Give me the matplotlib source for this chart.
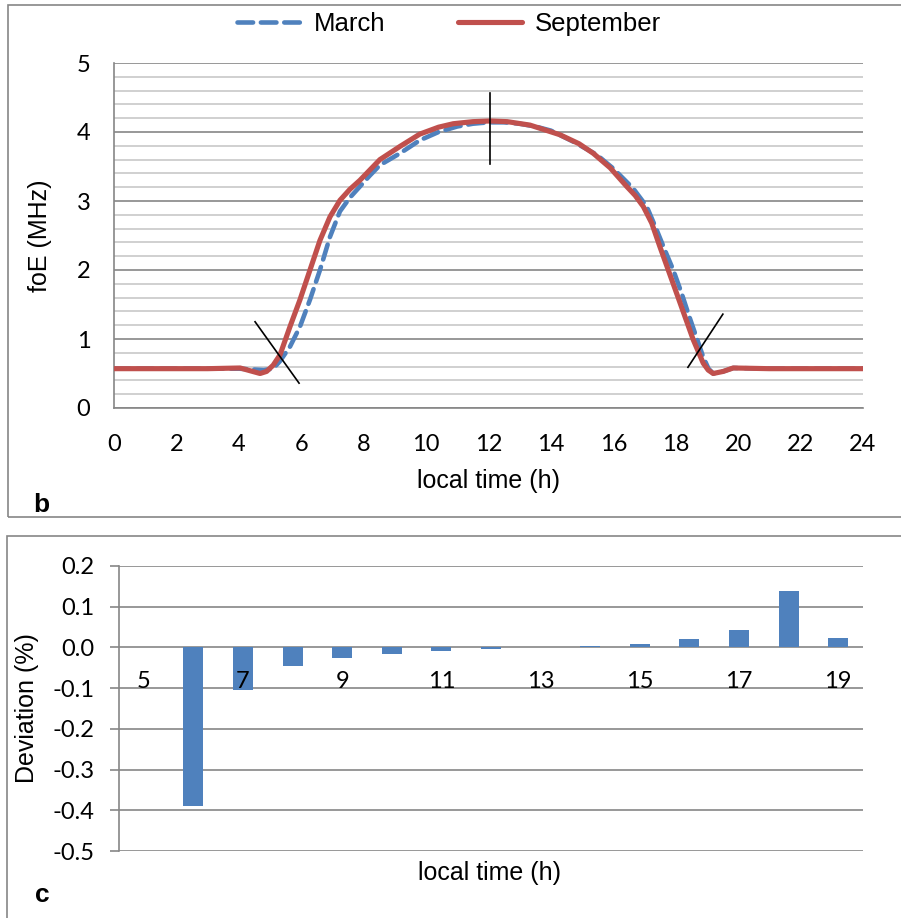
import numpy as np
import matplotlib.pyplot as plt
from matplotlib.patches import Rectangle
from matplotlib.lines import Line2D
from matplotlib.ticker import MultipleLocator

# foE curves (local time in hours, foE in MHz)
t_march = [0, 1, 2, 3, 4, 4.4, 4.8, 5.1, 5.32, 5.64, 5.96, 6.28, 6.6, 6.92, 7.24,
           7.56, 7.88, 8.2, 8.52, 9.16, 9.8, 10.4, 11.0, 11.5, 12.0, 12.5, 13.0,
           13.5, 14.0, 14.72, 15.47, 16.0, 16.64, 17.07, 17.39, 17.65, 17.92, 18.19,
           18.4, 18.62, 18.88, 19.05, 19.2, 19.52, 19.84, 21, 22, 23, 24]
foe_march = [0.57, 0.57, 0.57, 0.57, 0.57, 0.56, 0.55, 0.57, 0.68, 0.89, 1.18,
             1.57, 2.0, 2.48, 2.85, 3.05, 3.21, 3.37, 3.52, 3.69, 3.88, 4.0, 4.08,
             4.12, 4.14, 4.14, 4.12, 4.08, 4.02, 3.86, 3.67, 3.47, 3.18, 2.92, 2.58,
             2.29, 2.0, 1.66, 1.37, 1.08, 0.74, 0.57, 0.50, 0.53, 0.58, 0.57, 0.57,
             0.57, 0.57]

t_sept = [0, 1, 2, 3, 4.04, 4.36, 4.68, 4.89, 5.1, 5.32, 5.64, 5.96, 6.28, 6.6,
          6.92, 7.24, 7.56, 7.88, 8.52, 9.16, 9.8, 10.4, 10.87, 11.5, 12.05, 12.6,
          13.33, 14.29, 14.9, 15.36, 15.9, 16.43, 16.7, 16.96, 17.23, 17.49, 18.03,
          18.56, 18.88, 19.04, 19.2, 19.52, 19.84, 21, 22, 23, 24]
foe_sept = [0.57, 0.57, 0.57, 0.57, 0.58, 0.54, 0.50, 0.53, 0.62, 0.77, 1.18, 1.57,
            2.0, 2.43, 2.77, 3.01, 3.17, 3.30, 3.60, 3.79, 3.97, 4.07, 4.12, 4.15,
            4.16, 4.15, 4.10, 3.96, 3.83, 3.69, 3.48, 3.21, 3.08, 2.92, 2.68, 2.34,
            1.66, 0.99, 0.65, 0.55, 0.50, 0.53, 0.58, 0.57, 0.57, 0.57, 0.57]

# black marker strokes drawn over the curves
mark_x = [[4.52, 5.93], [18.39, 19.51], [12.06, 12.06]]
mark_y = [[1.25, 0.36], [0.59, 1.36], [4.57, 3.54]]

# deviation between the two months per hour
hours = [5, 6, 7, 8, 9, 10, 11, 12, 13, 14, 15, 16, 17, 18, 19]
deviation = [0.0, -0.39, -0.105, -0.045, -0.026, -0.017, -0.009, -0.005, 0.0,
             0.003, 0.009, 0.02, 0.042, 0.138, 0.022]
hour_labels = ['5', '', '7', '', '9', '', '11', '', '13', '', '15', '', '17', '', '19']
dev_ticks = [-0.5, -0.4, -0.3, -0.2, -0.1, 0.0, 0.1, 0.2]
dev_labels = ['-0.5', '-0.4', '-0.3', '-0.2', '-0.1', '0.0', '0.1', '0.2']

blue = '#4F81BD'
red = '#C0504D'
major = '#868686'
minor = '#C8C8C8'
tick_font = 'Lato'
text_font = 'Liberation Sans'

W, H = 901, 918
fig = plt.figure(figsize=(W / 100, H / 100), dpi=100)

# chart-area frames
fig.patches.append(Rectangle((8 / W, 1 - 517 / H), (W + 10 - 8) / W, (517 - 5) / H,
                             transform=fig.transFigure, fill=False, ec=major, lw=1.2))
fig.patches.append(Rectangle((7 / W, -0.05), (W + 10 - 7) / W, 1 - 536 / H + 0.05,
                             transform=fig.transFigure, fill=False, ec=major, lw=1.2))

# ---- top panel (b)
ax = fig.add_axes([114 / W, 1 - 408 / H, 749 / W, 345 / H])
ax.plot(t_march, foe_march, color=blue, lw=3.3, dashes=(3.4, 1.7),
        dash_capstyle='round', solid_joinstyle='round', zorder=3)
ax.plot(t_sept, foe_sept, color=red, lw=3.7, solid_capstyle='round',
        solid_joinstyle='round', zorder=4)
for xs, ys in zip(mark_x, mark_y):
    ax.plot(xs, ys, color='black', lw=1.2, zorder=5)

ax.set_xlim(0, 24)
ax.set_ylim(0, 5)
ax.xaxis.set_major_locator(MultipleLocator(2))
ax.yaxis.set_major_locator(MultipleLocator(1))
ax.yaxis.set_minor_locator(MultipleLocator(0.2))
ax.grid(axis='y', which='major', color=major, lw=1.2)
ax.grid(axis='y', which='minor', color=minor, lw=1.2)
ax.set_axisbelow(True)
for s in ['top', 'right']:
    ax.spines[s].set_visible(False)
for s in ['left', 'bottom']:
    ax.spines[s].set_color(major)
    ax.spines[s].set_linewidth(1.2)
ax.tick_params(axis='both', which='both', length=0)
ax.tick_params(axis='x', pad=19, labelsize=17)
ax.tick_params(axis='y', pad=17, labelsize=17)
for lab in ax.get_xticklabels() + ax.get_yticklabels():
    lab.set_fontfamily(tick_font)
ax.set_xlabel('local time (h)', fontsize=18, family=text_font, labelpad=10)
ax.set_ylabel('foE (MHz)', fontsize=18, family=text_font, labelpad=18)

handles = [Line2D([], [], color=blue, lw=3.3, dashes=(3.4, 1.7), dash_capstyle='round'),
           Line2D([], [], color=red, lw=3.7, solid_capstyle='round')]
fig.legend(handles, ['March', 'September'], loc='center', ncol=2,
           bbox_to_anchor=(449 / W, 1 - 24 / H), frameon=False,
           prop={'family': text_font, 'size': 18.5}, handlelength=2.5,
           handletextpad=0.5, columnspacing=2.8)
fig.text(33 / W, 1 - 505 / H, 'b', fontsize=19, fontweight='bold',
         family=text_font, ha='left', va='center')

# ---- bottom panel (c)
bx = fig.add_axes([119 / W, 1 - 851 / H, 744 / W, 285 / H])
pos = np.arange(len(hours))
bx.bar(pos, deviation, width=0.4, color=blue, zorder=3)
bx.set_xlim(-0.5, len(hours) - 0.5)
bx.set_ylim(-0.5, 0.2)
bx.set_yticks(dev_ticks)
bx.set_yticklabels(dev_labels, family=tick_font, fontsize=17)
bx.grid(axis='y', color=major, lw=1.2)
bx.set_axisbelow(True)
bx.set_xticks([])
for s in ['top', 'right', 'bottom']:
    bx.spines[s].set_visible(False)
bx.spines['left'].set_color(major)
bx.spines['left'].set_linewidth(1.2)
bx.tick_params(axis='y', length=6.5, width=1.2, color=major, pad=11)
for p, lab in zip(pos, hour_labels):
    bx.text(p, -0.1, lab, ha='center', va='baseline', fontsize=17,
            family=tick_font, zorder=4)
bx.set_ylabel('Deviation (%)', fontsize=18, family=text_font, labelpad=10)
fig.text(490 / W, 1 - 873 / H, 'local time (h)', fontsize=18, family=text_font,
         ha='center', va='center')
fig.text(35 / W, 1 - 895 / H, 'c', fontsize=19, fontweight='bold',
         family=text_font, ha='left', va='center')

fig.savefig('out.png', dpi=100)
